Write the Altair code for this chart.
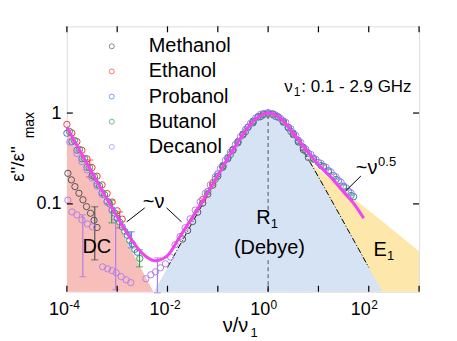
import altair as alt
import pandas as pd

FONT = "Liberation Sans"
W, H = 353, 266

# ---------------- data (x given as log10 of nu/nu1) ----------------
series_names = ["Methanol", "Ethanol", "Probanol", "Butanol", "Decanol"]
series_colors = ["#555555", "#ee3b33", "#3a78dc", "#2e9e4f", "#b27fe6"]

meth_lx = [-3.98, -3.91, -3.84, -3.76, -3.68, -3.61, -3.53, -3.46, -3.40,
           -1.7, -1.6, -1.5, -1.4, -1.3, -1.2, -1.1, -1.0, -0.9, -0.8, -0.7, -0.6, -0.5,
           -0.4, -0.3, -0.2, -0.1, 0.0, 0.1, 0.2, 0.3, 0.4, 0.5, 0.6, 0.7, 0.8]
meth_y = [0.217, 0.184, 0.155, 0.131, 0.111, 0.0934, 0.079, 0.066, 0.055,
          0.041, 0.051, 0.064, 0.081, 0.102, 0.128, 0.161, 0.202, 0.253, 0.315, 0.391, 0.482, 0.586,
          0.700, 0.815, 0.915, 0.978, 1.0, 0.972, 0.90, 0.80, 0.69, 0.58, 0.48, 0.395, 0.325]

eth_lx = [-4.0, -3.9, -3.8, -3.7, -3.6, -3.5, -3.4, -3.3, -3.2, -3.1, -3.0, -2.9,
          -1.3, -1.1, -0.9, -0.7, -0.5, -0.3, -0.1, 0.1, 0.3, 0.5, 0.7, 0.9, 1.1]
eth_y = [0.75, 0.603, 0.484, 0.389, 0.313, 0.251, 0.202, 0.162, 0.130, 0.105, 0.084, 0.068,
         0.112, 0.171, 0.26, 0.39, 0.573, 0.787, 0.951, 0.956, 0.804, 0.588, 0.412, 0.314, 0.255]

prob_lx = [-4.0, -3.9, -3.8, -3.7, -3.6, -3.5, -3.4, -3.3, -3.2, -3.1, -3.0, -2.9, -2.8, -2.7, -2.6,
           -1.0, -0.9, -0.8, -0.7, -0.6, -0.5, -0.4, -0.3, -0.2, -0.1, 0.0, 0.1, 0.2, 0.3, 0.4,
           0.5, 0.6, 0.7, 0.8, 0.9, 1.0, 1.1, 1.2, 1.3, 1.4, 1.5, 1.6, 1.7]
prob_y = [0.60, 0.484, 0.390, 0.314, 0.253, 0.204, 0.165, 0.133, 0.107, 0.0862, 0.0695, 0.056, 0.0452, 0.0364, 0.0294,
          0.214, 0.265, 0.325, 0.398, 0.485, 0.585, 0.695, 0.803, 0.900, 0.970, 1.0, 0.975, 0.91, 0.82, 0.70,
          0.60, 0.50, 0.42, 0.36, 0.32, 0.285, 0.26, 0.232, 0.205, 0.18, 0.157, 0.137, 0.12]

but_lx = [-3.95, -3.85, -3.75, -3.65, -3.55, -3.45, -3.35, -3.25, -3.15, -3.05, -2.95, -2.85, -2.75, -2.65, -2.55,
          -1.2, -1.05, -0.9, -0.75, -0.6, -0.45, -0.3, -0.15, 0.0, 0.15, 0.3, 0.45, 0.6, 0.75, 0.9,
          1.05, 1.2, 1.35, 1.5, 1.65]
but_y = [0.629, 0.500, 0.397, 0.316, 0.251, 0.199, 0.158, 0.126, 0.100, 0.0793, 0.0630, 0.0500, 0.0397, 0.0316, 0.0251,
         0.137, 0.187, 0.257, 0.349, 0.47, 0.621, 0.779, 0.912, 0.97, 0.917, 0.795, 0.63, 0.485, 0.378, 0.31,
         0.264, 0.225, 0.186, 0.152, 0.124]

dec_lx = [-3.94, -3.8, -3.7, -3.6, -3.5, -3.4, -3.3, -3.2, -3.1,
          -3.98, -3.90, -3.80, -3.70, -3.59, -3.49, -3.29, -3.19, -3.10, -3.02, -2.92, -2.82, -2.73,
          -2.43, -2.33, -2.24, -2.14, -2.04, -1.94,
          -1.85, -1.75, -1.65, -1.55, -1.45, -1.35, -1.25, -1.15, -1.05, -0.95, -0.85, -0.75, -0.65,
          -0.55, -0.45, -0.35, -0.25, -0.15, -0.05, 0.05, 0.15, 0.25, 0.35, 0.45, 0.55, 0.65, 0.75,
          0.85, 0.95, 1.05, 1.15, 1.25, 1.35, 1.45, 1.55, 1.65]
dec_y = [0.48, 0.359, 0.292, 0.237, 0.193, 0.157, 0.127, 0.104, 0.084,
         0.11, 0.0817, 0.0757, 0.0667, 0.0603, 0.0559, 0.0203, 0.0193, 0.0184, 0.0175, 0.0158, 0.0146, 0.0136,
         0.015, 0.0166, 0.0179, 0.0198, 0.0219, 0.026,
         0.0355, 0.0438, 0.0546, 0.0685, 0.0855, 0.106, 0.131, 0.162, 0.199, 0.245, 0.303, 0.371, 0.453,
         0.549, 0.659, 0.772, 0.879, 0.968, 0.995, 0.99, 0.95, 0.87, 0.79, 0.67, 0.567, 0.474, 0.40,
         0.35, 0.309, 0.28, 0.253, 0.225, 0.198, 0.173, 0.151, 0.132]

# fit curve (magenta)
fit_lx = [-4.0, -3.75, -3.5, -3.25, -3.0, -2.75, -2.5, -2.25, -2.0, -1.75, -1.5, -1.25, -1.0,
          -0.75, -0.5, -0.25, 0.0, 0.25, 0.5, 0.75, 1.0, 1.25, 1.5, 1.75, 1.9]
fit_y = [0.70, 0.394, 0.222, 0.1256, 0.072, 0.0429, 0.0285, 0.0237, 0.027, 0.044, 0.072, 0.12, 0.205,
         0.355, 0.582, 0.855, 1.0, 0.87, 0.60, 0.40, 0.27, 0.195, 0.135, 0.093, 0.0696]

# Debye curve
debye_lx = [-2.4, -2.2, -2.0, -1.8, -1.6, -1.4, -1.2, -1.0, -0.8, -0.6, -0.4, -0.2, 0.0,
            0.2, 0.4, 0.6, 0.8, 1.0, 1.2, 1.4, 1.6, 1.8, 2.0, 2.2, 2.4]
debye_y = [0.00796, 0.01262, 0.0200, 0.0317, 0.0502, 0.0795, 0.1257, 0.1980, 0.3092, 0.4726, 0.6873, 0.9026, 1.0,
           0.9026, 0.6873, 0.4726, 0.3092, 0.1980, 0.1257, 0.0795, 0.0502, 0.0317, 0.0200, 0.01262, 0.00796]

# DC region (upper edge) and E1 region (upper edge)
dc_lx = [-4.0, -2.0]
dc_y = [0.68, 0.0055]
e1_lx = [0.8, 1.0, 1.5, 2.0, 2.5, 3.0]
e1_y = [0.296, 0.239, 0.142, 0.0848, 0.0505, 0.0301]

# error bars
err_lx = [-3.684, -3.446, -3.03, -2.95, -2.72, -2.556, -2.20, -3.545, -3.11]
err_lo = [0.0158, 0.0242, 0.0114, 0.0545, 0.0328, 0.0203, 0.0105, 0.198, 0.0618]
err_hi = [0.076, 0.093, 0.067, 0.0817, 0.0493, 0.0312, 0.0255, 0.304, 0.11]
err_series = ["Decanol", "Methanol", "Decanol", "Ethanol", "Probanol", "Butanol", "Decanol", "Ethanol", "Butanol"]

x_ticks = [-4, -3, -2, -1, 0, 1, 2, 3]
x_label_lx = [-4, -2, 0, 2]
x_label_exp = ["-4", "-2", "0", "2"]
y_ticks = [0.1, 1.0]

# ---------------- tables ----------------
cmap = dict(zip(series_names, series_colors))
rows = []
for name, lxs, yv in [("Methanol", meth_lx, meth_y), ("Ethanol", eth_lx, eth_y),
                      ("Probanol", prob_lx, prob_y), ("Butanol", but_lx, but_y),
                      ("Decanol", dec_lx, dec_y)]:
    for a, b in zip(lxs, yv):
        rows.append({"series": name, "x": 10 ** a, "y": b})
pts = pd.DataFrame(rows)

fit = pd.DataFrame({"x": [10 ** a for a in fit_lx], "y": fit_y})
deb = pd.DataFrame({"x": [10 ** a for a in debye_lx], "y": debye_y, "y2": [1e-3] * len(debye_lx)})
deb_line = deb[(deb.x >= 0.0095) & (deb.x <= 105)]
dc = pd.DataFrame({"x": [10 ** a for a in dc_lx], "y": dc_y, "y2": [1e-3] * 2})
e1 = pd.DataFrame({"x": [10 ** a for a in e1_lx], "y": e1_y, "y2": [1e-3] * len(e1_lx)})
err = pd.DataFrame({"x": [10 ** a for a in err_lx], "lo": err_lo, "hi": err_hi,
                    "c": [cmap[s] for s in err_series]})
caps = pd.concat([err[["x", "c"]].assign(y=err.lo), err[["x", "c"]].assign(y=err.hi)])
vdash = pd.DataFrame({"x": [1.0, 1.0], "y": [0.95, 0.024], "y2": [0.086, 0.0108]})
xt = pd.DataFrame({"x": [10.0 ** a for a in x_ticks]})
xl = pd.DataFrame({"x": [10.0 ** a for a in x_label_lx], "e": x_label_exp})
yt = pd.DataFrame({"y": y_ticks})

# ---------------- scales ----------------
xs = alt.Scale(type="log", domain=[1e-4, 1e3])
ys = alt.Scale(type="log", domain=[0.0108, 9.0])
yaxis = alt.Axis(values=y_ticks, labelExpr="datum.value >= 0.5 ? '1' : '0.1'",
                 labelFontSize=18, labelFont=FONT, labelColor="black", ticks=False,
                 domain=False, grid=False, title=None, labelPadding=6)
X = alt.X("x:Q", scale=xs, axis=None)
Y = alt.Y("y:Q", scale=ys, axis=yaxis)

e1_area = alt.Chart(e1).mark_area(color="#fde7aa", clip=True).encode(x=X, y=Y, y2="y2:Q")
deb_area = alt.Chart(deb).mark_area(color="#d5e3f5", clip=True, interpolate="monotone").encode(
    x=X, y=Y, y2="y2:Q")
dc_area = alt.Chart(dc).mark_area(color="#f8bfba", clip=True).encode(x=X, y=Y, y2="y2:Q")

vline = alt.Chart(vdash).mark_rule(color="#555555", strokeDash=[4, 3], strokeWidth=1).encode(
    x=X, y=Y, y2="y2:Q")
deb_l = alt.Chart(deb_line).mark_line(color="black", strokeWidth=1, strokeDash=[6, 2, 1, 2],
                                      interpolate="monotone").encode(x=X, y=Y)

err_r = alt.Chart(err).mark_rule(strokeWidth=1.2).encode(
    x=X, y=alt.Y("lo:Q", scale=ys, axis=yaxis), y2="hi:Q", color=alt.Color("c:N", scale=None))
err_c = alt.Chart(caps).mark_tick(orient="horizontal", size=7, thickness=1.2).encode(
    x=X, y=Y, color=alt.Color("c:N", scale=None))

points = alt.Chart(pts).mark_point(filled=False, size=40, strokeWidth=1, opacity=1).encode(
    x=X, y=Y,
    color=alt.Color("series:N", scale=alt.Scale(domain=series_names, range=series_colors),
                    legend=alt.Legend(title=None, orient="none", legendX=35, legendY=10,
                                      labelFontSize=20, labelFont=FONT, labelColor="black",
                                      symbolSize=25, symbolStrokeWidth=1, symbolType="circle",
                                      rowPadding=5.2, labelOffset=27, padding=0)))

fit_l = alt.Chart(fit).mark_line(color="#ef45ef", strokeWidth=3, interpolate="monotone").encode(x=X, y=Y)

one = pd.DataFrame({"a": [0]})


def txt(t, x, y, size=20, align="center", baseline="middle", angle=0):
    kw = dict(text=t, fontSize=size, font=FONT, color="black", align=align, baseline=baseline)
    if angle:
        kw["angle"] = angle
    return alt.Chart(one).mark_text(**kw).encode(x=alt.value(x), y=alt.value(y))


def seg(x1, y1, x2, y2):
    return alt.Chart(one).mark_rule(color="black", strokeWidth=1).encode(
        x=alt.value(x1), y=alt.value(y1), x2=alt.value(x2), y2=alt.value(y2))


annotations = [
    txt("~ν", 87, 176),
    seg(78, 182, 60, 196), seg(100, 182, 115, 196),
    txt("DC", 30, 221),
    txt("R", 197, 192), txt("1", 208, 198, size=13),
    txt("(Debye)", 203, 222.5),
    txt("E", 314, 224), txt("1", 324.5, 230, size=13),
    txt("~ν", 300.5, 142), txt("0.5", 321, 136, size=13),
    seg(294.7, 150, 279.7, 164.7),
    txt("ν", 218, 65.7, size=17, align="left", baseline="alphabetic"),
    txt("1", 227.5, 69.5, size=12, align="left", baseline="alphabetic"),
    txt(": 0.1 - 2.9 GHz", 235, 65.7, size=17, align="left", baseline="alphabetic"),
    # axis titles
    txt("ν/ν", 169, 306, size=20, align="center", baseline="alphabetic"),
    txt("1", 184, 311, size=13, align="left", baseline="alphabetic"),
    txt('ε"/ε"', -43, 138, size=19, align="center", baseline="alphabetic", angle=270),
    txt("max", -33, 99, size=14, align="center", baseline="alphabetic", angle=270),
]

# ticks (inward) and x tick labels
tb = alt.Chart(xt).mark_rule(color="black", strokeWidth=1.2).encode(x=X, y=alt.value(H), y2=alt.value(H - 6))
tt = alt.Chart(xt).mark_rule(color="black", strokeWidth=1.2).encode(x=X, y=alt.value(0), y2=alt.value(6))
tl = alt.Chart(yt).mark_rule(color="black", strokeWidth=1.2).encode(y=Y, x=alt.value(0), x2=alt.value(6))
tr = alt.Chart(yt).mark_rule(color="black", strokeWidth=1.2).encode(y=Y, x=alt.value(W), x2=alt.value(W - 6))
lab10 = alt.Chart(xl).mark_text(text="10", fontSize=18, font=FONT, color="black", align="right",
                                baseline="alphabetic", dx=2).encode(x=X, y=alt.value(289))
labexp = alt.Chart(xl).mark_text(fontSize=12, font=FONT, color="black", align="left",
                                 baseline="alphabetic", dx=2.5).encode(x=X, y=alt.value(283), text="e:N")

chart = alt.layer(e1_area, deb_area, dc_area, vline, deb_l, err_r, err_c, points, fit_l,
                  tb, tt, tl, tr, lab10, labexp, *annotations).properties(
    width=W, height=H,
    autosize=alt.AutoSizeParams(type="none"),
    padding={"left": 59, "top": 18, "right": 30, "bottom": 49},
).configure_view(stroke="black", strokeWidth=1.5).configure(background="white")

chart.save("out.html", embed_options={"renderer": "svg", "actions": False})
